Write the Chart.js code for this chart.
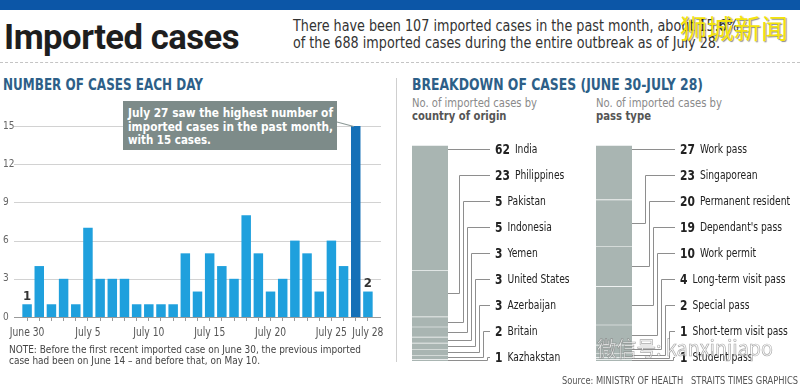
<!DOCTYPE html>
<html lang="en">
<head>
<meta charset="UTF-8">
<title>Imported cases</title>
<script src="https://cdn.jsdelivr.net/npm/chart.js"></script>
<style>
  body { margin:0; width:800px; height:385px; position:relative; overflow:hidden; background:#fff;
         font-family:'DejaVu Sans Condensed','Liberation Sans Narrow',Roboto,sans-serif; color:#333; }
  .abs { position:absolute; white-space:nowrap; transform-origin:0 0; }
  canvas { position:absolute; }
  #topbar { position:absolute; left:0; top:0; width:800px; height:10px; background:#0c56a7; }
  #rule { position:absolute; left:0; top:62px; width:800px; border-top:1px dashed #c4c4c4; }
  #divider { position:absolute; left:396px; top:78px; width:1px; height:284px; background:#cfcfcf; }
  #title { left:4px; top:20px; font:700 35px/35px Roboto,sans-serif; color:#1e1e1e; letter-spacing:-0.5px; }
  #intro { left:293px; top:18px; font-size:15px; line-height:17px; color:#333; }
  .head { top:77px; font-size:16px; line-height:16px; font-weight:700; color:#2d5f88; }
  .sub { top:97px; font-size:11.5px; line-height:12.5px; color:#8a8a8a; }
  .sub b { color:#555; }
  #note { left:9px; top:344px; font-size:10px; line-height:11px; color:#444; }
  #callout { position:absolute; left:123px; top:101px; width:214px; height:49px; background:#7d8b89; }
  #callout div { left:5px; font-size:12.5px; line-height:13.5px; font-weight:700; color:#fff; }
  #source { left:562px; top:375px; font-size:10.5px; line-height:11px; color:#555; }
  #wm1 { left:680px; top:12px; font:400 27px/32px 'Noto Sans CJK SC',sans-serif; color:#f4e40c;
         text-shadow:1px 1px 1px rgba(0,0,0,0.45); }
  #wm2 { left:597px; top:335px; font:400 21px/24px 'Noto Sans CJK SC',sans-serif; color:rgba(255,255,255,0.7);
         -webkit-text-stroke:0.7px rgba(110,110,110,0.6); }
</style>
</head>
<body>
<div id="topbar"></div>
<div id="title" class="abs" data-w="235">Imported cases</div>
<div id="intro" class="abs" data-w="446">There have been 107 imported cases in the past month, about 15.6%<br>of the 688 imported cases during the entire outbreak as of July 28.</div>
<div id="rule"></div>
<div class="abs head" style="left:3px" data-w="200">NUMBER OF CASES EACH DAY</div>
<div class="abs head" style="left:412px" data-w="291">BREAKDOWN OF CASES (JUNE 30-JULY 28)</div>
<div id="divider"></div>
<div class="abs sub" style="left:412px" data-w="125">No. of imported cases by<br><b>country of origin</b></div>
<div class="abs sub" style="left:596px" data-w="126">No. of imported cases by<br><b>pass type</b></div>

<canvas id="daily" width="395" height="250" style="left:0;top:95px"></canvas>
<canvas id="origin" width="184" height="290" style="left:400px;top:95px"></canvas>
<canvas id="pass" width="216" height="290" style="left:584px;top:95px"></canvas>

<div id="callout">
  <div class="abs" style="top:5px" data-w="205">July 27 saw the highest number of</div>
  <div class="abs" style="top:19px" data-w="205">imported cases in the past month,</div>
  <div class="abs" style="top:32px" data-w="83">with 15 cases.</div>
</div>

<div id="note" class="abs" data-w="352">NOTE: Before the first recent imported case on June 30, the previous imported<br>case had been on June 14 – and before that, on May 10.</div>
<div id="source" class="abs" data-w="236">Source: MINISTRY OF HEALTH &nbsp; STRAITS TIMES GRAPHICS</div>
<div id="wm1" class="abs">狮城新闻</div>
<div id="wm2" class="abs" data-w="176">微信号: kanxinjiapo</div>

<script>
  const FAM = "'DejaVu Sans Condensed', 'Liberation Sans Narrow', Roboto, sans-serif";
  const SQUEEZE = 0.85; // canvas text is drawn narrower to look like the condensed original

  // Daily imported cases, June 30 - July 28
  const days = ['June 30', 'July 1', 'July 2', 'July 3', 'July 4', 'July 5', 'July 6', 'July 7', 'July 8', 'July 9',
    'July 10', 'July 11', 'July 12', 'July 13', 'July 14', 'July 15', 'July 16', 'July 17', 'July 18', 'July 19',
    'July 20', 'July 21', 'July 22', 'July 23', 'July 24', 'July 25', 'July 26', 'July 27', 'July 28'];
  const dailyCases = [1, 4, 1, 3, 1, 7, 3, 3, 3, 1, 1, 1, 1, 5, 2, 5, 4, 3, 8, 5, 2, 3, 6, 5, 2, 6, 4, 15, 2];
  const shownTicks = ['June 30', 'July 5', 'July 10', 'July 15', 'July 20', 'July 25', 'July 28'];
  const labelledDays = ['June 30', 'July 28'];
  const highlightDay = 'July 27';
  const yMax = 15;
  const yStep = 3;

  // Breakdown by country of origin
  const countries = ['India', 'Philippines', 'Pakistan', 'Indonesia', 'Yemen', 'United States', 'Azerbaijan', 'Britain', 'Kazhakstan'];
  const countryCases = [62, 23, 5, 5, 3, 3, 3, 2, 1];

  // Breakdown by pass type
  const passTypes = ['Work pass', 'Singaporean', 'Permanent resident', "Dependant's pass", 'Work permit',
    'Long-term visit pass', 'Special pass', 'Short-term visit pass', 'Student pass'];
  const passCases = [27, 23, 20, 19, 10, 4, 2, 1, 1];

  // squeeze html text to the widths of the original condensed type
  document.querySelectorAll('[data-w]').forEach(el => {
    const w = el.getBoundingClientRect().width;
    el.style.transform = 'scaleX(' + (+el.dataset.w / w) + ')';
  });

  function squeezedText(ctx, text, x, y) {
    ctx.save();
    ctx.translate(x, y);
    ctx.scale(SQUEEZE, 1);
    ctx.fillText(text, 0, 0);
    ctx.restore();
  }

  // grid lines a bit wider than the plot, drawn behind the bars
  const gridExt = {
    id: 'gridExt',
    beforeDatasetsDraw(chart) {
      const { ctx, chartArea: a, scales: { y } } = chart;
      ctx.save();
      ctx.lineWidth = 1;
      y.ticks.forEach(t => {
        const py = Math.round(y.getPixelForValue(t.value)) + 0.5;
        ctx.strokeStyle = t.value === 0 ? '#9a9a9a' : '#d2d2d2';
        ctx.beginPath();
        ctx.moveTo(a.left - 7, py);
        ctx.lineTo(a.right + 7, py);
        ctx.stroke();
      });
      ctx.restore();
    }
  };

  // day labels under the axis, value labels on first/last bar and the callout pointer
  const barNotes = {
    id: 'barNotes',
    afterDatasetsDraw(chart) {
      const { ctx, chartArea: a, scales: { x } } = chart;
      const meta = chart.getDatasetMeta(0);
      ctx.save();
      ctx.font = '12px ' + FAM;
      ctx.fillStyle = '#555';
      ctx.textAlign = 'center';
      ctx.textBaseline = 'alphabetic';
      shownTicks.forEach(d => squeezedText(ctx, d, x.getPixelForValue(days.indexOf(d)), a.bottom + 19));

      ctx.font = 'bold 13px ' + FAM;
      ctx.fillStyle = '#333';
      ctx.textBaseline = 'bottom';
      labelledDays.forEach(d => {
        const i = days.indexOf(d);
        const el = meta.data[i];
        ctx.fillText(dailyCases[i], el.x, el.y - 1);
      });
      const el = meta.data[days.indexOf(highlightDay)];
      ctx.strokeStyle = '#8d9997';
      ctx.lineWidth = 1.2;
      ctx.beginPath();
      ctx.moveTo(337, 27);
      ctx.lineTo(el.x - 2, el.y + 0.5);
      ctx.stroke();
      ctx.restore();
    }
  };

  new Chart(document.getElementById('daily'), {
    type: 'bar',
    data: {
      labels: days,
      datasets: [{
        data: dailyCases,
        backgroundColor: days.map(d => d === highlightDay ? '#1570b7' : '#1fa0dd'),
        barPercentage: 0.78,
        categoryPercentage: 1
      }]
    },
    options: {
      responsive: false,
      animation: false,
      layout: { padding: { left: 3, right: 21, top: 31, bottom: 0 } },
      plugins: { legend: { display: false }, tooltip: { enabled: false } },
      scales: {
        x: {
          grid: { display: true, drawOnChartArea: false, offset: false, tickLength: 4, color: '#9a9a9a' },
          border: { display: false },
          ticks: { display: false },
          afterFit: s => { s.height = 28; }
        },
        y: {
          min: 0, max: yMax,
          grid: { display: false },
          border: { display: false },
          ticks: { stepSize: yStep, crossAlign: 'far', padding: 0, color: '#666', font: { family: FAM, size: 10 } },
          afterFit: s => { s.width = 18; }
        }
      }
    },
    plugins: [gridExt, barNotes]
  });

  // single stacked column with leader lines out to the labels
  function stackColumn(id, names, values, o) {
    const total = values.reduce((s, v) => s + v, 0);
    const leaders = {
      id: 'leaders',
      afterDraw(chart) {
        const { ctx, chartArea: a } = chart;
        ctx.save();
        ctx.lineWidth = 1;
        ctx.strokeStyle = '#8e8e8e';
        values.forEach((v, i) => {
          const el = chart.getDatasetMeta(i).data[0];
          const top = Math.min(el.y, el.base), bot = Math.max(el.y, el.base);
          const ly = Math.round(a.top + 3.5 + i * 26.1) + 0.5;
          const sy = (ly >= top && ly <= bot) ? ly : Math.round((top + bot) / 2) + 0.5;
          const ex = Math.round(a.right + o.elbow + (i - 1) * 4) + 0.5;
          const lx = a.right + o.lineEnd;
          ctx.beginPath();
          ctx.moveTo(a.right, sy);
          if (sy !== ly) { ctx.lineTo(ex, sy); ctx.lineTo(ex, ly); }
          ctx.lineTo(lx, ly);
          ctx.stroke();
          ctx.fillStyle = '#222';
          ctx.textAlign = 'left';
          ctx.textBaseline = 'middle';
          ctx.font = 'bold 14px ' + FAM;
          squeezedText(ctx, String(v), lx + 5, ly + 0.5);
          const w = ctx.measureText(String(v)).width * SQUEEZE;
          ctx.font = '12px ' + FAM;
          squeezedText(ctx, names[i], lx + 5 + w + 5, ly + 0.5);
        });
        ctx.restore();
      }
    };
    new Chart(document.getElementById(id), {
      type: 'bar',
      data: {
        labels: [''],
        datasets: values.map((v, i) => ({
          label: names[i], data: [v],
          backgroundColor: '#a9b5b2', borderColor: '#fff',
          borderWidth: { top: 1, bottom: 0, left: 0, right: 0 }, borderSkipped: false,
          barPercentage: 1, categoryPercentage: 1
        }))
      },
      options: {
        responsive: false,
        animation: false,
        layout: { padding: { left: 12, right: o.right, top: 50, bottom: 24 } },
        plugins: { legend: { display: false }, tooltip: { enabled: false } },
        scales: {
          x: { stacked: true, display: false },
          y: { stacked: true, display: false, reverse: true, min: 0, max: total }
        }
      },
      plugins: [leaders]
    });
  }

  stackColumn('origin', countries, countryCases, { right: 136, elbow: 11, lineEnd: 42 });
  stackColumn('pass', passTypes, passCases, { right: 168, elbow: 13, lineEnd: 43 });
</script>
</body>
</html>
